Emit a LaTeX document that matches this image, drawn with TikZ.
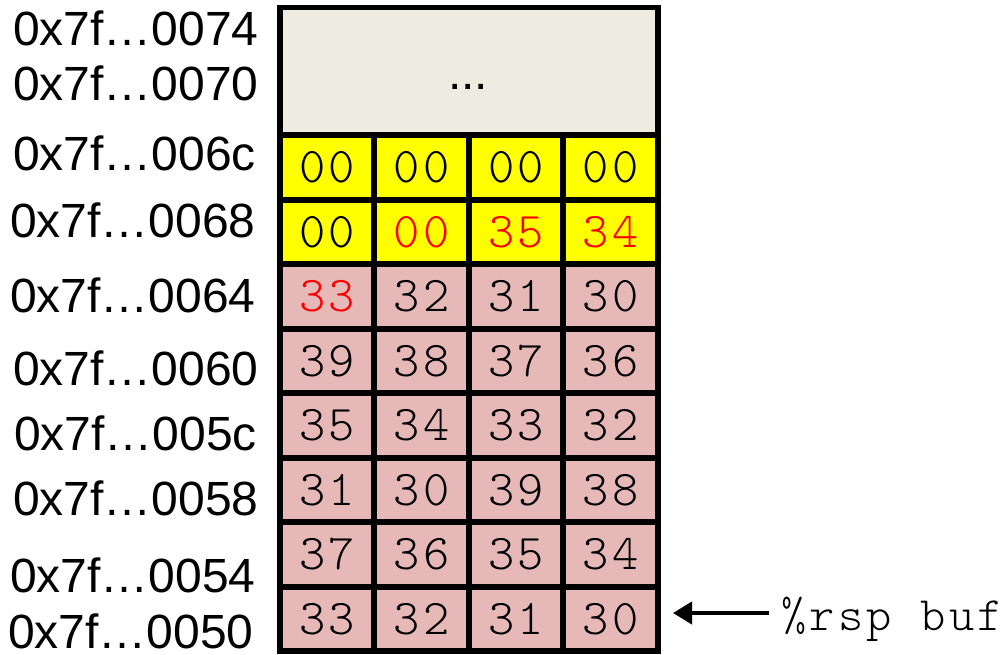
\documentclass[tikz,border=0pt]{standalone}
\usepackage{fontspec}
\setmainfont{Liberation Sans}
\newfontfamily\monofam{lmmonolt10-regular.otf}[LetterSpace=7]
\usetikzlibrary{arrows.meta}
\definecolor{cellpink}{HTML}{E6B8B7}
\definecolor{cellyellow}{HTML}{FFFF00}
\definecolor{framebeige}{HTML}{EEECE1}
\begin{document}
\begin{tikzpicture}[x=1pt,y=-1pt,
  cell/.style={draw=black, line width=6pt, minimum width=94.4pt, minimum height=64.5pt,
    inner sep=0pt, outer sep=0pt, font=\monofam\fontsize{50}{50}\selectfont},
  topbox/.style={draw=black, fill=framebeige, line width=5.5pt, minimum width=378.1pt,
    minimum height=127.5pt, inner sep=0pt, outer sep=0pt},
  addr/.style={anchor=base west, inner sep=0pt, font=\fontsize{48}{48}\selectfont},
  reglabel/.style={anchor=base west, inner sep=0pt, font=\monofam\fontsize{48}{48}\selectfont},
  pointer/.style={line width=4pt, -{Triangle[length=19pt,width=22pt]}}]
\useasboundingbox (0,0) rectangle (1004,654);

% unused part of the frame above the buffer
\node[topbox] (top) at (468.8,71.25) {};
\node[anchor=base, inner sep=0pt, font=\fontsize{48}{48}\selectfont] (dots) at (468,89) {...};

% stack bytes, four per word, highest address on top
\foreach \r/\bg/\a/\b/\c/\d in {
  0/cellyellow/00/00/00/00,
  1/cellyellow/00/{\textcolor{red}{00}}/{\textcolor{red}{35}}/{\textcolor{red}{34}},
  2/cellpink/{\textcolor{red}{33}}/32/31/30,
  3/cellpink/39/38/37/36,
  4/cellpink/35/34/33/32,
  5/cellpink/31/30/39/38,
  6/cellpink/37/36/35/34,
  7/cellpink/33/32/31/30}{
  \node[cell, fill=\bg] (c\r-0) at (327.2, {135+64.5*(\r+0.5)}) {\a};
  \node[cell, fill=\bg] (c\r-1) at (421.6, {135+64.5*(\r+0.5)}) {\b};
  \node[cell, fill=\bg] (c\r-2) at (516.0, {135+64.5*(\r+0.5)}) {\c};
  \node[cell, fill=\bg] (c\r-3) at (610.4, {135+64.5*(\r+0.5)}) {\d};
}

% addresses
\node[addr] (a74) at (13,45)  {0x7f…0074};
\node[addr] (a70) at (13,100) {0x7f…0070};
\node[addr] (a6c) at (13,170) {0x7f…006c};
\node[addr] (a68) at (10,237) {0x7f…0068};
\node[addr] (a64) at (10,312) {0x7f…0064};
\node[addr] (a60) at (13,385) {0x7f…0060};
\node[addr] (a5c) at (14,450) {0x7f…005c};
\node[addr] (a58) at (13,515) {0x7f…0058};
\node[addr] (a54) at (10,592) {0x7f…0054};
\node[addr] (a50) at (8,648)  {0x7f…0050};

% stack pointer / buf
\node[reglabel] (lbl) at (781,630) {\%rsp buf};
\coordinate (tip) at (673,613);
\draw[pointer, shorten <=12pt] (tip -| lbl.west) -- (tip);
\end{tikzpicture}
\end{document}
